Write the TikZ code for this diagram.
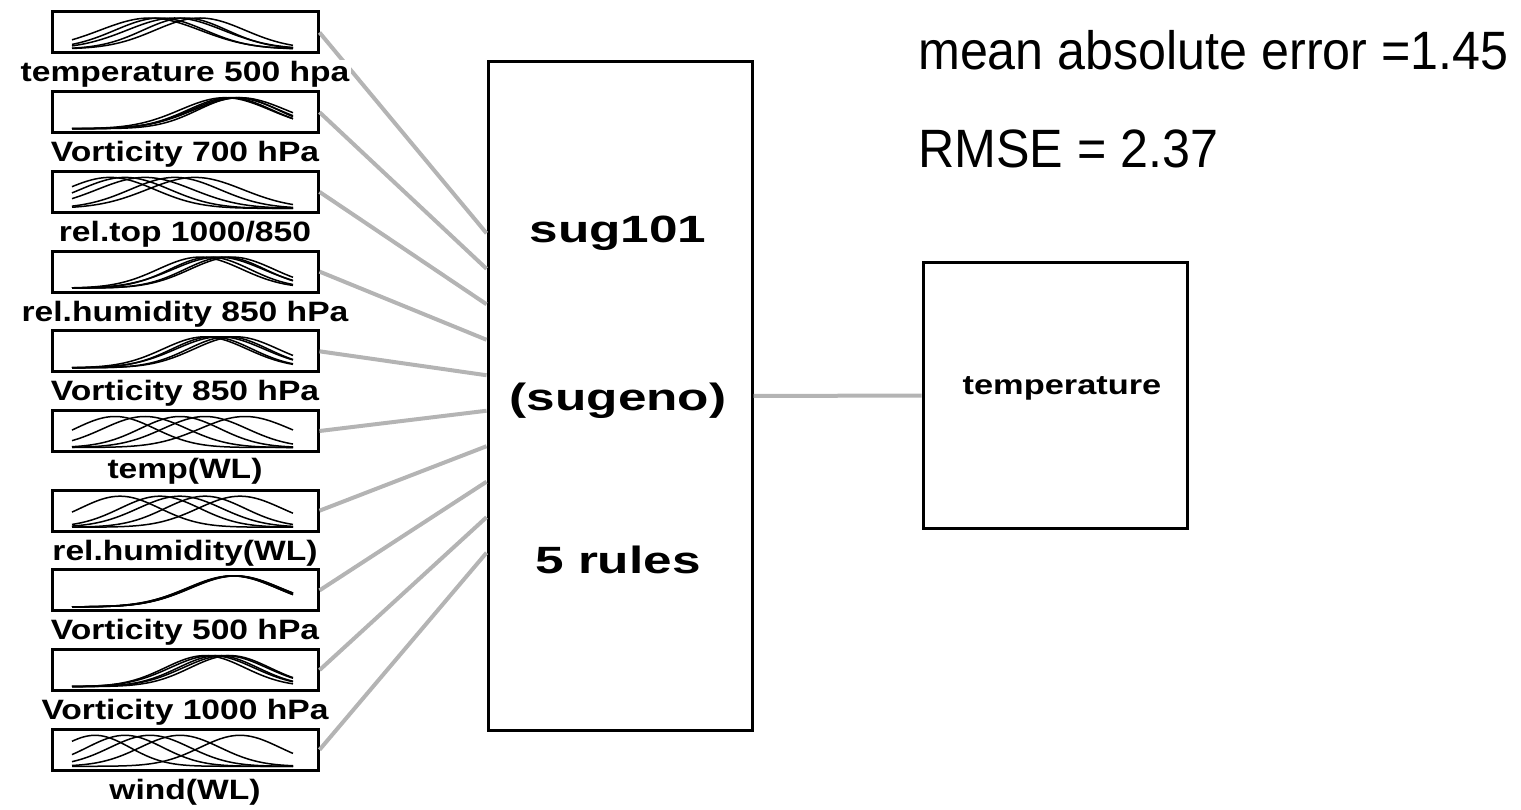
\documentclass[tikz,border=0pt]{standalone}
\usepackage{fontspec}
\setmainfont{Liberation Sans}
\usepackage{graphicx}
\newcommand{\sx}[2]{\scalebox{#1}[1]{#2}}
\newcommand{\gss}[3]{%
  \draw[mfline] plot[domain=72:293,samples=70] (\x,{#1+37-31*exp(-0.5*((\x-#2)/#3)^2)});}
\begin{document}
\begin{tikzpicture}[x=1pt,y=-1pt,
  inbox/.style={draw=black,line width=3pt,minimum width=266pt,minimum height=41pt,inner sep=0pt,fill=white},
  bigbox/.style={draw=black,line width=3pt,inner sep=0pt,fill=white},
  conn/.style={draw={rgb,255:red,180;green,180;blue,180},line width=4pt},
  mfline/.style={draw=black,line width=1.5pt},
  lbl/.style={font=\bfseries\fontsize{28}{30}\selectfont,fill=white,inner sep=2pt,anchor=base},
  maintxt/.style={font=\bfseries\fontsize{38}{40}\selectfont,inner sep=0pt,anchor=base},
  outtxt/.style={font=\bfseries\fontsize{27.5}{30}\selectfont,inner sep=0pt,anchor=base},
  metric/.style={font=\fontsize{54}{58}\selectfont,inner sep=0pt,anchor=base west}]
\useasboundingbox (0,0) rectangle (1521,810);
% input boxes
\node[inbox] (in1)  at (185,32.5) {};
\node[inbox] (in2)  at (185,112.2) {};
\node[inbox] (in3)  at (185,191.9) {};
\node[inbox] (in4)  at (185,271.6) {};
\node[inbox] (in5)  at (185,351.3) {};
\node[inbox] (in6)  at (185,431) {};
\node[inbox] (in7)  at (185,510.7) {};
\node[inbox] (in8)  at (185,590.4) {};
\node[inbox] (in9)  at (185,670.1) {};
\node[inbox] (in10) at (185,749.8) {};
% main and output boxes
\node[bigbox,minimum width=264pt,minimum height=668pt] (main) at (620,396) {};
\node[bigbox,minimum width=264pt,minimum height=265pt] (out) at (1055,395.5) {};
% connectors
\foreach \i in {1,...,10}{
  \draw[conn] (in\i.east) -- ([yshift={((5.5-\i)*35.5+3)*1pt}]main.west);
}
\draw[conn] (main.east) -- (out.west);
% membership functions
\foreach \c/\s in {150/50,160/45,175/48,185/42,200/45} {\gss{12}{\c}{\s}}
\foreach \c/\s in {225/45,230/42,235/44,238/40,240/46} {\gss{91.7}{\c}{\s}}
\foreach \c/\s in {110/45,125/45,145/48,175/45,195/48} {\gss{171.4}{\c}{\s}}
\foreach \c/\s in {200/42,210/40,218/45,225/40,232/42} {\gss{251.1}{\c}{\s}}
\foreach \c/\s in {205/42,212/40,220/44,228/40,236/42} {\gss{330.8}{\c}{\s}}
\foreach \c/\s in {115/40,145/42,180/40,205/42,245/45} {\gss{410.5}{\c}{\s}}
\foreach \c/\s in {120/40,160/40,180/42,205/40,240/42} {\gss{490.2}{\c}{\s}}
\foreach \c/\s in {232/45,234/46,236/45,233/44,235/45} {\gss{569.9}{\c}{\s}}
\foreach \c/\s in {205/40,212/42,218/40,225/42,230/40} {\gss{649.6}{\c}{\s}}
\foreach \c/\s in {95/35,125/38,150/40,180/40,240/40} {\gss{729.3}{\c}{\s}}
% labels
\node[lbl] (l1)  at (185,82)    {\sx{1.2}{temperature 500 hpa}};
\node[lbl] (l2)  at (185,161.7) {\sx{1.2}{Vorticity 700 hPa}};
\node[lbl] (l3)  at (185,241.4) {\sx{1.2}{rel.top 1000/850}};
\node[lbl] (l4)  at (185,321.1) {\sx{1.2}{rel.humidity 850 hPa}};
\node[lbl] (l5)  at (185,400.8) {\sx{1.2}{Vorticity 850 hPa}};
\node[lbl] (l6)  at (185,478)   {\sx{1.2}{temp(WL)}};
\node[lbl] (l7)  at (185,560.2) {\sx{1.2}{rel.humidity(WL)}};
\node[lbl] (l8)  at (185,639.9) {\sx{1.2}{Vorticity 500 hPa}};
\node[lbl] (l9)  at (185,719.6) {\sx{1.2}{Vorticity 1000 hPa}};
\node[lbl] (l10) at (185,799.3) {\sx{1.2}{wind(WL)}};
% main box texts
\node[maintxt] (m1) at (618,243) {\sx{1.35}{sug101}};
\node[maintxt] (m2) at (618,410) {\sx{1.35}{(sugeno)}};
\node[maintxt] (m3) at (618,573) {\sx{1.35}{5 rules}};
% output text
\node[outtxt] (o1) at (1062,394) {\sx{1.25}{temperature}};
% metrics
\node[metric] (mae)  at (918,70)  {\sx{0.93}{mean absolute error =1.45}};
\node[metric] (rmse) at (918,168) {\sx{0.93}{RMSE = 2.37}};
\end{tikzpicture}
\end{document}
